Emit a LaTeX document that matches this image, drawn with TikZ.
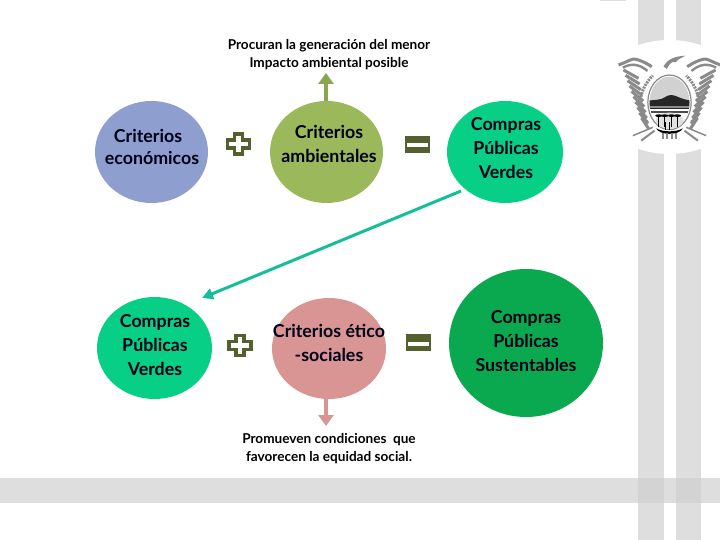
\documentclass[tikz,border=0pt]{standalone}
\usepackage{fontspec}
\setmainfont{Lato}
\usetikzlibrary{arrows.meta,shapes.geometric}
\definecolor{cblue}{HTML}{8E9FCF}
\definecolor{colive}{HTML}{9BB85A}
\definecolor{cmint}{HTML}{07CF86}
\definecolor{cpink}{HTML}{D89594}
\definecolor{cdeep}{HTML}{0BA94F}
\definecolor{cteal}{HTML}{14BE98}
\definecolor{cmark}{HTML}{55602F}
\definecolor{cband}{HTML}{DEDEDE}
\definecolor{ccross}{HTML}{D3D3D3}
\definecolor{clogo}{HTML}{8A8A8A}
\tikzset{
  disc/.style={ellipse,inner sep=0pt,draw=none},
  ctext/.style={font=\fontsize{17.8}{24}\selectfont\bfseries,align=center,text=black!90!blue},
  captext/.style={font=\fontsize{13.6}{18}\selectfont\bfseries,align=center,inner sep=0pt,text=black},
  feather/.style={clogo,line width=3pt,line cap=butt},
  bigarrow/.style={line width=4.2pt,-{Triangle[length=11pt,width=15pt]}},
  markline/.style={cmark,line width=3.4pt,line join=miter},
}
\newcommand{\plusmark}[2]{\draw[markline,shift={(#1,#2)}] (-4,-10)--(4,-10)--(4,-4)--(11,-4)--(11,4)--(4,4)--(4,10)--(-4,10)--(-4,4)--(-11,4)--(-11,-4)--(-4,-4)--cycle;}
\newcommand{\equalmark}[2]{\fill[cmark,shift={(#1,#2)}] (-12.5,-8.5) rectangle (12.5,8.5); \fill[white,shift={(#1,#2)}] (-10.5,-1) rectangle (10.5,3);}
\begin{document}
\begin{tikzpicture}[x=1pt,y=-1pt]
\useasboundingbox (0,0) rectangle (720,540);
% background bands
\fill[cband] (0,478) rectangle (720,503);
\fill[cband] (638,0) rectangle (664,540);
\fill[cband] (676,0) rectangle (701,540);
\fill[ccross] (638,478) rectangle (664,503);
\fill[ccross] (676,478) rectangle (701,503);
\fill[cband] (600,0) rectangle (626,1);
\fill[white] (669.5,97) ellipse [x radius=75,y radius=57];
% logo
\begin{scope}[shift={(669.5,59)},x=0.3333pt,y=-0.3333pt]
  \foreach \s in {1,-1}{
    \begin{scope}[xscale=\s]
      \draw[feather] (-153,18) .. controls (-125,8) and (-110,-4) .. (-100,1) .. controls (-85,5) and (-70,12) .. (-53,23);
      \draw[feather,line width=2.4pt] (-140,26) .. controls (-115,12) and (-90,15) .. (-66,36);
      \foreach \i in {0,1,...,9}{
        \draw[feather] (-138+\i*6,33+\i*16) -- (-93+\i*3.5,58+\i*17);
      }
      \draw[clogo,line width=3pt,dash pattern=on 2pt off 1pt] (-66,190) .. controls (-100,150) and (-92,90) .. (-50,50);
      \draw[clogo,line width=1.5pt] (-50,205) -- (-110,230);
      \draw[clogo,line width=2pt] (-45,215) -- (-85,245);
    \end{scope}
  }
  % eagle head
  \fill[clogo] (-18,22) .. controls (-5,0) and (15,-8) .. (48,-10) .. controls (30,0) and (22,2) .. (18,10) .. controls (10,5) and (0,12) .. (-8,30) -- cycle;
  % oval
  \draw[clogo,line width=1.2pt] (0,130) ellipse [x radius=65,y radius=82];
  \fill[black!18] (0,130) ellipse [x radius=60,y radius=77];
  \foreach \a in {20,40,...,160}{\draw[white,line width=1.6pt] (0,125) -- ++(\a:65);}
  \begin{scope}
    \clip (0,130) ellipse [x radius=60,y radius=77];
    \fill[white] (-65,130) rectangle (65,215);
    \fill[black!85] (-65,125) -- (-35,122) .. controls (-15,120) and (-10,108) .. (5,108) .. controls (20,108) and (30,120) .. (65,125) -- (65,150) -- (-65,150) -- cycle;
    \fill[black!45] (-65,140) rectangle (65,148);
    \fill[black!70] (-65,155) rectangle (65,161);
  \end{scope}
  % base
  \fill[black!12] (0,185) ellipse [x radius=42,y radius=24];
  \foreach \x in {-32,-14,6,24}{
    \draw[black,line width=1pt] (\x,205) -- (\x,172);
    \fill[black] (\x,170) ellipse [x radius=11,y radius=4];
  }
  \fill[black] (-40,208) .. controls (-20,220) and (20,220) .. (40,208) .. controls (30,230) and (-30,230) .. (-40,208) -- cycle;
  \draw[black,line width=1.4pt] (-12,190)--(-12,214) (0,190)--(0,214);
  \draw[clogo,line width=2pt] (-20,222)--(-20,240) (-8,222)--(-8,240) (6,222)--(6,240) (18,222)--(18,240);
\end{scope}
% circles
\node[disc,fill=cblue,minimum width=113pt,minimum height=102pt] (eco) at (151.5,152) {};
\node[disc,fill=colive,minimum width=113pt,minimum height=102pt] (amb) at (326.5,152) {};
\node[disc,fill=cmint,minimum width=116pt,minimum height=102pt] (cpv) at (505,152) {};
\node[disc,fill=cmint,minimum width=115pt,minimum height=102pt] (cpv2) at (154.5,348) {};
\node[disc,fill=cpink,minimum width=114pt,minimum height=101pt] (soc) at (329,348.5) {};
\node[disc,fill=cdeep,minimum width=154pt,minimum height=148pt] (cps) at (526,343) {};
% circle texts
\node[ctext] (t1a) at (148,136) {Criterios};
\node[ctext] (t1b) at (152,158) {económicos};
\node[ctext] (t2) at (329,144) {Criterios\\ambientales};
\node[ctext] (t3) at (506,148) {Compras\\Públicas\\Verdes};
\node[ctext] (t4) at (155,345) {Compras\\Públicas\\Verdes};
\node[ctext] (t5) at (329,343) {Criterios ético\\-sociales};
\node[ctext] (t6) at (526,341.5) {Compras\\Públicas\\Sustentables};
% captions
\node[captext] (captop) at (329,55) {Procuran la generación del menor\\Impacto ambiental posible};
\node[captext] (capbot) at (329,449) {Promueven condiciones\ \ que\\favorecen la equidad social.};
% connectors
\coordinate (upend) at (326,73);
\coordinate (downend) at (326,426);
\coordinate (tealstart) at (461,191);
\coordinate (tealend) at (202,298);
\draw[bigarrow,draw=colive!90!black,fill=colive!90!black] (amb.north -| upend) -- (upend);
\draw[bigarrow,draw=cpink,fill=cpink] (soc.south -| downend) -- (downend);
\draw[cteal,line width=3pt,-{Triangle[length=11pt,width=11pt]}] (tealstart) -- (tealend);
% marks
\plusmark{238.5}{144}
\plusmark{240}{345.5}
\equalmark{417.5}{144.5}
\equalmark{418.5}{342.5}
\end{tikzpicture}
\end{document}
